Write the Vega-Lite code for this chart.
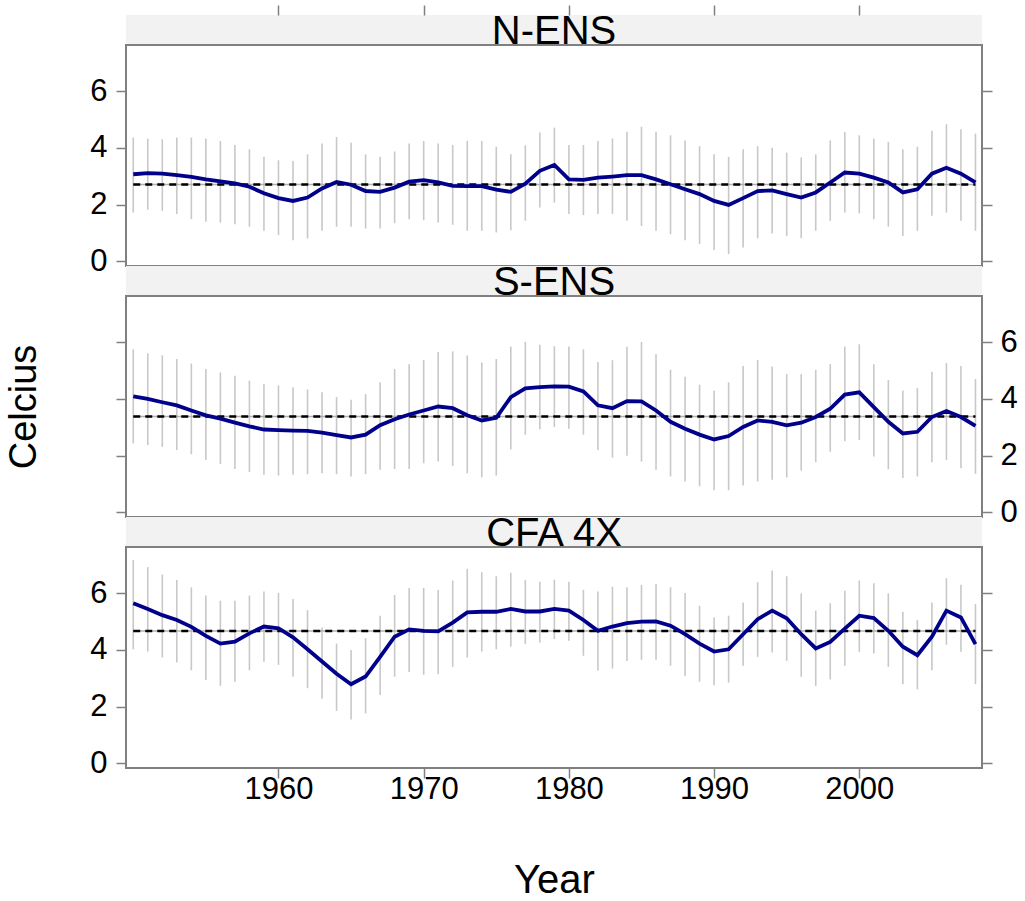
{
  "$schema": "https://vega.github.io/schema/vega-lite/v6.json",
  "padding": {"left": 4, "top": 3, "right": 5, "bottom": 5},
  "background": "white",
  "spacing": 0,
  "bounds": "flush",
  "datasets": {
    "means": [
      {"region": "N-ENS", "mean": 2.71, "from": 1950, "to": 2008},
      {"region": "S-ENS", "mean": 3.38, "from": 1950, "to": 2008},
      {"region": "CFA 4X", "mean": 4.66, "from": 1950, "to": 2008}
    ],
    "series": [
      {"region": "N-ENS", "year": 1950, "temp": 3.07, "lo": 1.72, "hi": 4.36},
      {"region": "N-ENS", "year": 1951, "temp": 3.11, "lo": 1.82, "hi": 4.32},
      {"region": "N-ENS", "year": 1952, "temp": 3.09, "lo": 1.78, "hi": 4.30},
      {"region": "N-ENS", "year": 1953, "temp": 3.04, "lo": 1.67, "hi": 4.36},
      {"region": "N-ENS", "year": 1954, "temp": 2.98, "lo": 1.49, "hi": 4.36},
      {"region": "N-ENS", "year": 1955, "temp": 2.89, "lo": 1.40, "hi": 4.33},
      {"region": "N-ENS", "year": 1956, "temp": 2.82, "lo": 1.37, "hi": 4.24},
      {"region": "N-ENS", "year": 1957, "temp": 2.75, "lo": 1.31, "hi": 4.10},
      {"region": "N-ENS", "year": 1958, "temp": 2.63, "lo": 1.22, "hi": 3.95},
      {"region": "N-ENS", "year": 1959, "temp": 2.40, "lo": 1.08, "hi": 3.69},
      {"region": "N-ENS", "year": 1960, "temp": 2.23, "lo": 0.93, "hi": 3.56},
      {"region": "N-ENS", "year": 1961, "temp": 2.13, "lo": 0.75, "hi": 3.54},
      {"region": "N-ENS", "year": 1962, "temp": 2.25, "lo": 0.81, "hi": 3.77},
      {"region": "N-ENS", "year": 1963, "temp": 2.57, "lo": 1.08, "hi": 4.15},
      {"region": "N-ENS", "year": 1964, "temp": 2.80, "lo": 1.22, "hi": 4.38},
      {"region": "N-ENS", "year": 1965, "temp": 2.70, "lo": 1.22, "hi": 4.18},
      {"region": "N-ENS", "year": 1966, "temp": 2.48, "lo": 1.16, "hi": 3.77},
      {"region": "N-ENS", "year": 1967, "temp": 2.45, "lo": 1.16, "hi": 3.69},
      {"region": "N-ENS", "year": 1968, "temp": 2.60, "lo": 1.35, "hi": 3.87},
      {"region": "N-ENS", "year": 1969, "temp": 2.81, "lo": 1.49, "hi": 4.15},
      {"region": "N-ENS", "year": 1970, "temp": 2.86, "lo": 1.45, "hi": 4.24},
      {"region": "N-ENS", "year": 1971, "temp": 2.78, "lo": 1.37, "hi": 4.15},
      {"region": "N-ENS", "year": 1972, "temp": 2.66, "lo": 1.29, "hi": 4.10},
      {"region": "N-ENS", "year": 1973, "temp": 2.65, "lo": 1.08, "hi": 4.24},
      {"region": "N-ENS", "year": 1974, "temp": 2.65, "lo": 1.08, "hi": 4.24},
      {"region": "N-ENS", "year": 1975, "temp": 2.53, "lo": 1.02, "hi": 4.04},
      {"region": "N-ENS", "year": 1976, "temp": 2.45, "lo": 1.10, "hi": 3.77},
      {"region": "N-ENS", "year": 1977, "temp": 2.74, "lo": 1.43, "hi": 4.09},
      {"region": "N-ENS", "year": 1978, "temp": 3.19, "lo": 1.90, "hi": 4.54},
      {"region": "N-ENS", "year": 1979, "temp": 3.40, "lo": 2.07, "hi": 4.71},
      {"region": "N-ENS", "year": 1980, "temp": 2.89, "lo": 1.67, "hi": 4.10},
      {"region": "N-ENS", "year": 1981, "temp": 2.87, "lo": 1.63, "hi": 4.10},
      {"region": "N-ENS", "year": 1982, "temp": 2.95, "lo": 1.67, "hi": 4.24},
      {"region": "N-ENS", "year": 1983, "temp": 2.99, "lo": 1.67, "hi": 4.33},
      {"region": "N-ENS", "year": 1984, "temp": 3.04, "lo": 1.43, "hi": 4.57},
      {"region": "N-ENS", "year": 1985, "temp": 3.04, "lo": 1.25, "hi": 4.74},
      {"region": "N-ENS", "year": 1986, "temp": 2.89, "lo": 1.08, "hi": 4.57},
      {"region": "N-ENS", "year": 1987, "temp": 2.72, "lo": 0.96, "hi": 4.44},
      {"region": "N-ENS", "year": 1988, "temp": 2.54, "lo": 0.75, "hi": 4.26},
      {"region": "N-ENS", "year": 1989, "temp": 2.37, "lo": 0.61, "hi": 4.06},
      {"region": "N-ENS", "year": 1990, "temp": 2.13, "lo": 0.40, "hi": 3.77},
      {"region": "N-ENS", "year": 1991, "temp": 1.99, "lo": 0.26, "hi": 3.68},
      {"region": "N-ENS", "year": 1992, "temp": 2.23, "lo": 0.49, "hi": 3.95},
      {"region": "N-ENS", "year": 1993, "temp": 2.48, "lo": 0.82, "hi": 4.06},
      {"region": "N-ENS", "year": 1994, "temp": 2.50, "lo": 0.98, "hi": 4.00},
      {"region": "N-ENS", "year": 1995, "temp": 2.37, "lo": 0.90, "hi": 3.83},
      {"region": "N-ENS", "year": 1996, "temp": 2.25, "lo": 0.82, "hi": 3.66},
      {"region": "N-ENS", "year": 1997, "temp": 2.43, "lo": 1.08, "hi": 3.77},
      {"region": "N-ENS", "year": 1998, "temp": 2.78, "lo": 1.43, "hi": 4.26},
      {"region": "N-ENS", "year": 1999, "temp": 3.13, "lo": 1.72, "hi": 4.56},
      {"region": "N-ENS", "year": 2000, "temp": 3.09, "lo": 1.69, "hi": 4.44},
      {"region": "N-ENS", "year": 2001, "temp": 2.95, "lo": 1.49, "hi": 4.32},
      {"region": "N-ENS", "year": 2002, "temp": 2.78, "lo": 1.23, "hi": 4.21},
      {"region": "N-ENS", "year": 2003, "temp": 2.43, "lo": 0.90, "hi": 3.95},
      {"region": "N-ENS", "year": 2004, "temp": 2.54, "lo": 1.08, "hi": 4.04},
      {"region": "N-ENS", "year": 2005, "temp": 3.09, "lo": 1.61, "hi": 4.60},
      {"region": "N-ENS", "year": 2006, "temp": 3.30, "lo": 1.72, "hi": 4.83},
      {"region": "N-ENS", "year": 2007, "temp": 3.09, "lo": 1.43, "hi": 4.65},
      {"region": "N-ENS", "year": 2008, "temp": 2.78, "lo": 1.08, "hi": 4.50},
      {"region": "S-ENS", "year": 1950, "temp": 4.09, "lo": 2.43, "hi": 5.74},
      {"region": "S-ENS", "year": 1951, "temp": 4.00, "lo": 2.37, "hi": 5.60},
      {"region": "S-ENS", "year": 1952, "temp": 3.88, "lo": 2.31, "hi": 5.53},
      {"region": "S-ENS", "year": 1953, "temp": 3.77, "lo": 2.20, "hi": 5.40},
      {"region": "S-ENS", "year": 1954, "temp": 3.59, "lo": 2.05, "hi": 5.24},
      {"region": "S-ENS", "year": 1955, "temp": 3.42, "lo": 1.85, "hi": 5.05},
      {"region": "S-ENS", "year": 1956, "temp": 3.30, "lo": 1.71, "hi": 4.93},
      {"region": "S-ENS", "year": 1957, "temp": 3.16, "lo": 1.53, "hi": 4.81},
      {"region": "S-ENS", "year": 1958, "temp": 3.03, "lo": 1.42, "hi": 4.64},
      {"region": "S-ENS", "year": 1959, "temp": 2.92, "lo": 1.33, "hi": 4.52},
      {"region": "S-ENS", "year": 1960, "temp": 2.90, "lo": 1.30, "hi": 4.47},
      {"region": "S-ENS", "year": 1961, "temp": 2.88, "lo": 1.33, "hi": 4.41},
      {"region": "S-ENS", "year": 1962, "temp": 2.87, "lo": 1.35, "hi": 4.33},
      {"region": "S-ENS", "year": 1963, "temp": 2.81, "lo": 1.38, "hi": 4.23},
      {"region": "S-ENS", "year": 1964, "temp": 2.72, "lo": 1.35, "hi": 4.06},
      {"region": "S-ENS", "year": 1965, "temp": 2.64, "lo": 1.27, "hi": 3.97},
      {"region": "S-ENS", "year": 1966, "temp": 2.74, "lo": 1.35, "hi": 4.17},
      {"region": "S-ENS", "year": 1967, "temp": 3.07, "lo": 1.50, "hi": 4.58},
      {"region": "S-ENS", "year": 1968, "temp": 3.28, "lo": 1.53, "hi": 5.05},
      {"region": "S-ENS", "year": 1969, "temp": 3.45, "lo": 1.53, "hi": 5.22},
      {"region": "S-ENS", "year": 1970, "temp": 3.59, "lo": 1.73, "hi": 5.37},
      {"region": "S-ENS", "year": 1971, "temp": 3.73, "lo": 1.79, "hi": 5.65},
      {"region": "S-ENS", "year": 1972, "temp": 3.67, "lo": 1.64, "hi": 5.67},
      {"region": "S-ENS", "year": 1973, "temp": 3.42, "lo": 1.38, "hi": 5.53},
      {"region": "S-ENS", "year": 1974, "temp": 3.24, "lo": 1.24, "hi": 5.28},
      {"region": "S-ENS", "year": 1975, "temp": 3.33, "lo": 1.30, "hi": 5.40},
      {"region": "S-ENS", "year": 1976, "temp": 4.06, "lo": 2.22, "hi": 5.84},
      {"region": "S-ENS", "year": 1977, "temp": 4.37, "lo": 2.74, "hi": 6.00},
      {"region": "S-ENS", "year": 1978, "temp": 4.41, "lo": 2.93, "hi": 5.90},
      {"region": "S-ENS", "year": 1979, "temp": 4.44, "lo": 3.01, "hi": 5.85},
      {"region": "S-ENS", "year": 1980, "temp": 4.43, "lo": 2.95, "hi": 5.84},
      {"region": "S-ENS", "year": 1981, "temp": 4.26, "lo": 2.74, "hi": 5.74},
      {"region": "S-ENS", "year": 1982, "temp": 3.77, "lo": 2.20, "hi": 5.30},
      {"region": "S-ENS", "year": 1983, "temp": 3.67, "lo": 1.93, "hi": 5.36},
      {"region": "S-ENS", "year": 1984, "temp": 3.92, "lo": 2.00, "hi": 5.83},
      {"region": "S-ENS", "year": 1985, "temp": 3.91, "lo": 1.79, "hi": 6.00},
      {"region": "S-ENS", "year": 1986, "temp": 3.59, "lo": 1.50, "hi": 5.57},
      {"region": "S-ENS", "year": 1987, "temp": 3.19, "lo": 1.27, "hi": 5.02},
      {"region": "S-ENS", "year": 1988, "temp": 2.95, "lo": 1.09, "hi": 4.78},
      {"region": "S-ENS", "year": 1989, "temp": 2.74, "lo": 0.92, "hi": 4.50},
      {"region": "S-ENS", "year": 1990, "temp": 2.57, "lo": 0.78, "hi": 4.29},
      {"region": "S-ENS", "year": 1991, "temp": 2.69, "lo": 0.78, "hi": 4.58},
      {"region": "S-ENS", "year": 1992, "temp": 3.01, "lo": 0.95, "hi": 5.16},
      {"region": "S-ENS", "year": 1993, "temp": 3.24, "lo": 1.09, "hi": 5.37},
      {"region": "S-ENS", "year": 1994, "temp": 3.19, "lo": 1.15, "hi": 5.14},
      {"region": "S-ENS", "year": 1995, "temp": 3.07, "lo": 1.23, "hi": 4.87},
      {"region": "S-ENS", "year": 1996, "temp": 3.16, "lo": 1.47, "hi": 4.87},
      {"region": "S-ENS", "year": 1997, "temp": 3.36, "lo": 1.77, "hi": 5.02},
      {"region": "S-ENS", "year": 1998, "temp": 3.65, "lo": 2.14, "hi": 5.22},
      {"region": "S-ENS", "year": 1999, "temp": 4.15, "lo": 2.51, "hi": 5.84},
      {"region": "S-ENS", "year": 2000, "temp": 4.23, "lo": 2.55, "hi": 5.92},
      {"region": "S-ENS", "year": 2001, "temp": 3.71, "lo": 1.97, "hi": 5.22},
      {"region": "S-ENS", "year": 2002, "temp": 3.19, "lo": 1.52, "hi": 4.66},
      {"region": "S-ENS", "year": 2003, "temp": 2.78, "lo": 1.21, "hi": 4.29},
      {"region": "S-ENS", "year": 2004, "temp": 2.84, "lo": 1.27, "hi": 4.38},
      {"region": "S-ENS", "year": 2005, "temp": 3.36, "lo": 1.77, "hi": 4.95},
      {"region": "S-ENS", "year": 2006, "temp": 3.57, "lo": 1.85, "hi": 5.26},
      {"region": "S-ENS", "year": 2007, "temp": 3.36, "lo": 1.56, "hi": 5.16},
      {"region": "S-ENS", "year": 2008, "temp": 3.05, "lo": 1.36, "hi": 4.70},
      {"region": "CFA 4X", "year": 1950, "temp": 5.64, "lo": 4.02, "hi": 7.16},
      {"region": "CFA 4X", "year": 1951, "temp": 5.44, "lo": 3.94, "hi": 6.91},
      {"region": "CFA 4X", "year": 1952, "temp": 5.22, "lo": 3.73, "hi": 6.65},
      {"region": "CFA 4X", "year": 1953, "temp": 5.05, "lo": 3.55, "hi": 6.46},
      {"region": "CFA 4X", "year": 1954, "temp": 4.81, "lo": 3.28, "hi": 6.20},
      {"region": "CFA 4X", "year": 1955, "temp": 4.49, "lo": 2.94, "hi": 5.91},
      {"region": "CFA 4X", "year": 1956, "temp": 4.22, "lo": 2.73, "hi": 5.73},
      {"region": "CFA 4X", "year": 1957, "temp": 4.29, "lo": 2.88, "hi": 5.73},
      {"region": "CFA 4X", "year": 1958, "temp": 4.58, "lo": 3.28, "hi": 5.91},
      {"region": "CFA 4X", "year": 1959, "temp": 4.82, "lo": 3.58, "hi": 6.05},
      {"region": "CFA 4X", "year": 1960, "temp": 4.76, "lo": 3.47, "hi": 6.00},
      {"region": "CFA 4X", "year": 1961, "temp": 4.44, "lo": 3.05, "hi": 5.79},
      {"region": "CFA 4X", "year": 1962, "temp": 4.02, "lo": 2.65, "hi": 5.40},
      {"region": "CFA 4X", "year": 1963, "temp": 3.59, "lo": 2.28, "hi": 4.79},
      {"region": "CFA 4X", "year": 1964, "temp": 3.16, "lo": 1.85, "hi": 4.22},
      {"region": "CFA 4X", "year": 1965, "temp": 2.79, "lo": 1.55, "hi": 3.99},
      {"region": "CFA 4X", "year": 1966, "temp": 3.06, "lo": 1.76, "hi": 4.41},
      {"region": "CFA 4X", "year": 1967, "temp": 3.75, "lo": 2.41, "hi": 5.20},
      {"region": "CFA 4X", "year": 1968, "temp": 4.46, "lo": 3.05, "hi": 5.93},
      {"region": "CFA 4X", "year": 1969, "temp": 4.72, "lo": 3.22, "hi": 6.18},
      {"region": "CFA 4X", "year": 1970, "temp": 4.67, "lo": 3.12, "hi": 6.18},
      {"region": "CFA 4X", "year": 1971, "temp": 4.65, "lo": 3.14, "hi": 6.11},
      {"region": "CFA 4X", "year": 1972, "temp": 4.96, "lo": 3.40, "hi": 6.44},
      {"region": "CFA 4X", "year": 1973, "temp": 5.32, "lo": 3.73, "hi": 6.85},
      {"region": "CFA 4X", "year": 1974, "temp": 5.34, "lo": 3.94, "hi": 6.73},
      {"region": "CFA 4X", "year": 1975, "temp": 5.34, "lo": 4.02, "hi": 6.59},
      {"region": "CFA 4X", "year": 1976, "temp": 5.44, "lo": 4.11, "hi": 6.71},
      {"region": "CFA 4X", "year": 1977, "temp": 5.35, "lo": 4.20, "hi": 6.46},
      {"region": "CFA 4X", "year": 1978, "temp": 5.35, "lo": 4.26, "hi": 6.40},
      {"region": "CFA 4X", "year": 1979, "temp": 5.44, "lo": 4.38, "hi": 6.47},
      {"region": "CFA 4X", "year": 1980, "temp": 5.38, "lo": 4.32, "hi": 6.40},
      {"region": "CFA 4X", "year": 1981, "temp": 5.05, "lo": 3.79, "hi": 6.11},
      {"region": "CFA 4X", "year": 1982, "temp": 4.67, "lo": 3.26, "hi": 6.05},
      {"region": "CFA 4X", "year": 1983, "temp": 4.82, "lo": 3.34, "hi": 6.22},
      {"region": "CFA 4X", "year": 1984, "temp": 4.94, "lo": 3.61, "hi": 6.20},
      {"region": "CFA 4X", "year": 1985, "temp": 4.99, "lo": 3.65, "hi": 6.28},
      {"region": "CFA 4X", "year": 1986, "temp": 5.00, "lo": 3.65, "hi": 6.32},
      {"region": "CFA 4X", "year": 1987, "temp": 4.85, "lo": 3.44, "hi": 6.20},
      {"region": "CFA 4X", "year": 1988, "temp": 4.55, "lo": 3.08, "hi": 6.00},
      {"region": "CFA 4X", "year": 1989, "temp": 4.22, "lo": 2.88, "hi": 5.55},
      {"region": "CFA 4X", "year": 1990, "temp": 3.94, "lo": 2.75, "hi": 5.14},
      {"region": "CFA 4X", "year": 1991, "temp": 4.02, "lo": 2.85, "hi": 5.20},
      {"region": "CFA 4X", "year": 1992, "temp": 4.55, "lo": 3.44, "hi": 5.67},
      {"region": "CFA 4X", "year": 1993, "temp": 5.08, "lo": 3.75, "hi": 6.38},
      {"region": "CFA 4X", "year": 1994, "temp": 5.38, "lo": 3.91, "hi": 6.79},
      {"region": "CFA 4X", "year": 1995, "temp": 5.11, "lo": 3.61, "hi": 6.59},
      {"region": "CFA 4X", "year": 1996, "temp": 4.55, "lo": 3.05, "hi": 5.99},
      {"region": "CFA 4X", "year": 1997, "temp": 4.05, "lo": 2.73, "hi": 5.38},
      {"region": "CFA 4X", "year": 1998, "temp": 4.28, "lo": 2.96, "hi": 5.64},
      {"region": "CFA 4X", "year": 1999, "temp": 4.75, "lo": 3.44, "hi": 6.08},
      {"region": "CFA 4X", "year": 2000, "temp": 5.20, "lo": 3.93, "hi": 6.44},
      {"region": "CFA 4X", "year": 2001, "temp": 5.12, "lo": 3.87, "hi": 6.34},
      {"region": "CFA 4X", "year": 2002, "temp": 4.67, "lo": 3.40, "hi": 5.99},
      {"region": "CFA 4X", "year": 2003, "temp": 4.11, "lo": 2.79, "hi": 5.34},
      {"region": "CFA 4X", "year": 2004, "temp": 3.81, "lo": 2.61, "hi": 5.05},
      {"region": "CFA 4X", "year": 2005, "temp": 4.46, "lo": 3.28, "hi": 5.67},
      {"region": "CFA 4X", "year": 2006, "temp": 5.38, "lo": 4.18, "hi": 6.52},
      {"region": "CFA 4X", "year": 2007, "temp": 5.14, "lo": 3.93, "hi": 6.29},
      {"region": "CFA 4X", "year": 2008, "temp": 4.20, "lo": 2.79, "hi": 5.61}
    ]
  },
  "vconcat": [
    {
      "width": 856, "height": 30,
      "data": {"name": "means"},
      "transform": [{"filter": "datum.region === 'N-ENS'"}],
      "view": {"fill": "#f2f2f2"},
      "mark": {"type": "text", "font": "Liberation Sans", "fontSize": 40, "baseline": "alphabetic", "dy": 14, "color": "black"},
      "encoding": {"text": {"field": "region"}}
    },
    {
      "width": 856, "height": 221,
      "resolve": {"axis": {"y": "independent"}},
      "layer": [
        {
          "data": {"name": "series"},
          "transform": [{"filter": "datum.region === 'N-ENS'"}],
          "mark": {"type": "rule", "color": "#c8c8c8", "strokeWidth": 1.6},
          "encoding": {
            "x": {"field": "year", "type": "quantitative", "scale": {"domain": [1949.5, 2008.45], "nice": false, "zero": false},
                  "axis": {"orient": "top", "offset": 30, "labels": false, "values": [1960, 1970, 1980, 1990, 2000], "title": null}},
            "y": {"field": "lo", "type": "quantitative", "scale": {"domain": [-0.16, 7.62], "nice": false, "zero": false},
                  "axis": {"orient": "left", "values": [0, 2, 4, 6], "title": null}},
            "y2": {"field": "hi"}
          }
        },
        {
          "data": {"name": "means"},
          "transform": [{"filter": "datum.region === 'N-ENS'"}],
          "mark": {"type": "rule", "color": "#b0b0b0", "strokeWidth": 1.5},
          "encoding": {
            "x": {"field": "from", "type": "quantitative",
                  "axis": {"orient": "top", "offset": 30, "labels": false, "values": [1960, 1970, 1980, 1990, 2000], "title": null}},
            "x2": {"field": "to"},
            "y": {"field": "mean", "type": "quantitative", "axis": null}
          }
        },
        {
          "data": {"name": "means"},
          "transform": [{"filter": "datum.region === 'N-ENS'"}],
          "mark": {"type": "rule", "color": "black", "strokeWidth": 2.5, "strokeDash": [7, 5]},
          "encoding": {
            "x": {"field": "from", "type": "quantitative",
                  "axis": {"orient": "top", "offset": 30, "labels": false, "values": [1960, 1970, 1980, 1990, 2000], "title": null}},
            "x2": {"field": "to"},
            "y": {"field": "mean", "type": "quantitative", "axis": null}
          }
        },
        {
          "data": {"name": "series"},
          "transform": [{"filter": "datum.region === 'N-ENS'"}],
          "mark": {"type": "line", "color": "#00008B", "strokeWidth": 3.8},
          "encoding": {
            "x": {"field": "year", "type": "quantitative",
                  "axis": {"orient": "top", "offset": 30, "labels": false, "values": [1960, 1970, 1980, 1990, 2000], "title": null}},
            "y": {"field": "temp", "type": "quantitative",
                  "axis": {"orient": "right", "labels": false, "values": [0, 2, 4, 6], "title": null}}
          }
        }
      ]
    },
    {
      "width": 856, "height": 30,
      "data": {"name": "means"},
      "transform": [{"filter": "datum.region === 'S-ENS'"}],
      "view": {"fill": "#f2f2f2"},
      "mark": {"type": "text", "font": "Liberation Sans", "fontSize": 40, "baseline": "alphabetic", "dy": 14, "color": "black"},
      "encoding": {"text": {"field": "region"}}
    },
    {
      "width": 856, "height": 221,
      "resolve": {"axis": {"y": "independent"}},
      "layer": [
        {
          "data": {"name": "series"},
          "transform": [{"filter": "datum.region === 'S-ENS'"}],
          "mark": {"type": "rule", "color": "#c8c8c8", "strokeWidth": 1.6},
          "encoding": {
            "x": {"field": "year", "type": "quantitative", "scale": {"domain": [1949.5, 2008.45], "nice": false, "zero": false}, "axis": null},
            "y": {"field": "lo", "type": "quantitative", "scale": {"domain": [-0.16, 7.62], "nice": false, "zero": false},
                  "axis": {"orient": "left", "labels": false, "values": [0, 2, 4, 6], "title": "Celcius", "titlePadding": 72}},
            "y2": {"field": "hi"}
          }
        },
        {
          "data": {"name": "means"},
          "transform": [{"filter": "datum.region === 'S-ENS'"}],
          "mark": {"type": "rule", "color": "#b0b0b0", "strokeWidth": 1.5},
          "encoding": {
            "x": {"field": "from", "type": "quantitative", "axis": null},
            "x2": {"field": "to"},
            "y": {"field": "mean", "type": "quantitative", "axis": null}
          }
        },
        {
          "data": {"name": "means"},
          "transform": [{"filter": "datum.region === 'S-ENS'"}],
          "mark": {"type": "rule", "color": "black", "strokeWidth": 2.5, "strokeDash": [7, 5]},
          "encoding": {
            "x": {"field": "from", "type": "quantitative", "axis": null},
            "x2": {"field": "to"},
            "y": {"field": "mean", "type": "quantitative", "axis": null}
          }
        },
        {
          "data": {"name": "series"},
          "transform": [{"filter": "datum.region === 'S-ENS'"}],
          "mark": {"type": "line", "color": "#00008B", "strokeWidth": 3.8},
          "encoding": {
            "x": {"field": "year", "type": "quantitative", "axis": null},
            "y": {"field": "temp", "type": "quantitative",
                  "axis": {"orient": "right", "values": [0, 2, 4, 6], "title": null, "labelPadding": 8}}
          }
        }
      ]
    },
    {
      "width": 856, "height": 30,
      "data": {"name": "means"},
      "transform": [{"filter": "datum.region === 'CFA 4X'"}],
      "view": {"fill": "#f2f2f2"},
      "mark": {"type": "text", "font": "Liberation Sans", "fontSize": 40, "baseline": "alphabetic", "dy": 14, "color": "black"},
      "encoding": {"text": {"field": "region"}}
    },
    {
      "width": 856, "height": 221,
      "resolve": {"axis": {"y": "independent"}},
      "layer": [
        {
          "data": {"name": "series"},
          "transform": [{"filter": "datum.region === 'CFA 4X'"}],
          "mark": {"type": "rule", "color": "#c8c8c8", "strokeWidth": 1.6},
          "encoding": {
            "x": {"field": "year", "type": "quantitative", "scale": {"domain": [1949.5, 2008.45], "nice": false, "zero": false},
                  "axis": {"orient": "bottom", "values": [1960, 1970, 1980, 1990, 2000], "format": "d", "title": "Year", "labelPadding": -4, "titlePadding": 56}},
            "y": {"field": "lo", "type": "quantitative", "scale": {"domain": [-0.16, 7.62], "nice": false, "zero": false},
                  "axis": {"orient": "left", "values": [0, 2, 4, 6], "title": null}},
            "y2": {"field": "hi"}
          }
        },
        {
          "data": {"name": "means"},
          "transform": [{"filter": "datum.region === 'CFA 4X'"}],
          "mark": {"type": "rule", "color": "#b0b0b0", "strokeWidth": 1.5},
          "encoding": {
            "x": {"field": "from", "type": "quantitative",
                  "axis": {"orient": "bottom", "values": [1960, 1970, 1980, 1990, 2000], "format": "d", "title": "Year", "labelPadding": -4, "titlePadding": 56}},
            "x2": {"field": "to"},
            "y": {"field": "mean", "type": "quantitative", "axis": null}
          }
        },
        {
          "data": {"name": "means"},
          "transform": [{"filter": "datum.region === 'CFA 4X'"}],
          "mark": {"type": "rule", "color": "black", "strokeWidth": 2.5, "strokeDash": [7, 5]},
          "encoding": {
            "x": {"field": "from", "type": "quantitative",
                  "axis": {"orient": "bottom", "values": [1960, 1970, 1980, 1990, 2000], "format": "d", "title": "Year", "labelPadding": -4, "titlePadding": 56}},
            "x2": {"field": "to"},
            "y": {"field": "mean", "type": "quantitative", "axis": null}
          }
        },
        {
          "data": {"name": "series"},
          "transform": [{"filter": "datum.region === 'CFA 4X'"}],
          "mark": {"type": "line", "color": "#00008B", "strokeWidth": 3.8},
          "encoding": {
            "x": {"field": "year", "type": "quantitative",
                  "axis": {"orient": "bottom", "values": [1960, 1970, 1980, 1990, 2000], "format": "d", "title": "Year", "labelPadding": -4, "titlePadding": 56}},
            "y": {"field": "temp", "type": "quantitative",
                  "axis": {"orient": "right", "labels": false, "values": [0, 2, 4, 6], "title": null}}
          }
        }
      ]
    }
  ],
  "config": {
    "font": "Liberation Sans",
    "view": {"stroke": "#808080", "strokeWidth": 2},
    "axis": {
      "domain": false,
      "grid": false,
      "ticks": true,
      "tickColor": "#808080",
      "tickSize": 10,
      "tickWidth": 1.5,
      "labelFont": "Liberation Sans",
      "labelFontSize": 31,
      "labelColor": "black",
      "labelPadding": 9,
      "titleFont": "Liberation Sans",
      "titleFontSize": 38,
      "titleFontWeight": "normal",
      "titleColor": "black"
    },
    "axisX": {"titleFontSize": 40}
  }
}
